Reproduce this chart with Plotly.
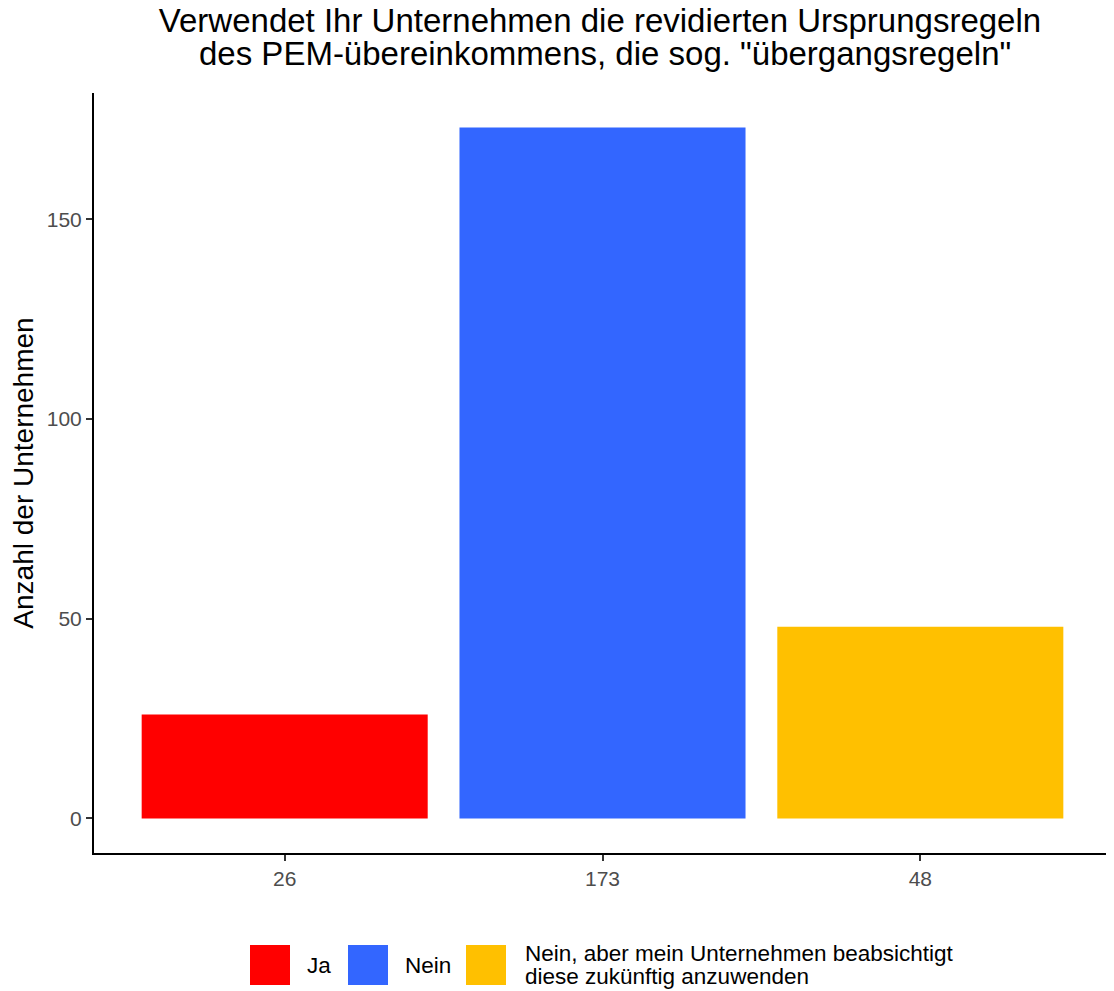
import plotly.graph_objects as go

categories = ["Ja", "Nein", "Nein, aber mein Unternehmen beabsichtigt diese zukünftig anzuwenden"]
counts = [26, 173, 48]
colors = ["#FF0000", "#3366FF", "#FFC000"]
tick_labels = [str(c) for c in counts]
legend_lines = [["Ja"], ["Nein"], ["Nein, aber mein Unternehmen beabsichtigt", "diese zukünftig anzuwenden"]]
title_lines = ["Verwendet Ihr Unternehmen die revidierten Ursprungsregeln",
               "des PEM-übereinkommens, die sog. \"übergangsregeln\""]
y_ticks = [0, 50, 100, 150]

OFF = 8  # page body margin
W, H = 1114 - OFF, 991 - OFF
L, R, T, B = 94 - OFF, 3, 93 - OFF, 138
pw, ph = W - L - R, H - T - B

def px_x(x):
    return (x - OFF - L) / pw

def px_y(y):
    return (H - B - (y - OFF)) / ph

fig = go.Figure()
fig.add_trace(go.Bar(
    x=categories, y=counts, marker=dict(color=colors, line=dict(width=0)),
    width=0.9, showlegend=False, hoverinfo="x+y",
))

font = "Liberation Sans, Arial, sans-serif"
ymax = max(counts)
pad = ymax * 0.05

fig.update_layout(
    width=W, height=H,
    margin=dict(l=L, r=R, t=T, b=B),
    paper_bgcolor="white", plot_bgcolor="white",
    font=dict(family=font, color="black"),
    title=dict(
        text=title_lines[0],
        x=px_x(600), xref="paper", xanchor="center",
        yref="container", y=1 - (20 - OFF) / H, yanchor="middle",
        font=dict(size=33, color="black"),
    ),
    xaxis=dict(
        type="category", range=[-0.6, 2.6],
        tickvals=categories, ticktext=tick_labels,
        showline=True, linecolor="black", linewidth=2,
        ticks="outside", ticklen=6, tickcolor="#333333", tickwidth=2,
        tickfont=dict(size=21, color="#4d4d4d"),
        showgrid=False, zeroline=False, fixedrange=True,
    ),
    yaxis=dict(
        range=[-pad, ymax + pad],
        tickvals=y_ticks,
        showline=True, linecolor="black", linewidth=2,
        ticks="outside", ticklen=6, tickcolor="#333333", tickwidth=2,
        tickfont=dict(size=21, color="#4d4d4d"),
        showgrid=False, zeroline=False,
        title=dict(text="Anzahl der Unternehmen", font=dict(size=28, color="black"), standoff=6),
    ),
)

# second title line
fig.add_annotation(xref="paper", yref="paper", x=px_x(605), y=px_y(53),
                   text=title_lines[1], showarrow=False, xanchor="center", yanchor="middle",
                   font=dict(size=33, color="black"))

# manual legend (ggplot-style, bottom)
key_x = [250, 348, 466]
text_x = [305, 403, 523]
key_top, key_bot = 945, 985
line_gap = 23
for lines, col, kx, tx in zip(legend_lines, colors, key_x, text_x):
    fig.add_shape(type="rect", xref="paper", yref="paper",
                  x0=px_x(kx), x1=px_x(kx + 40), y0=px_y(key_bot), y1=px_y(key_top),
                  fillcolor=col, line=dict(width=0))
    mid = (key_top + key_bot) / 2
    n = len(lines)
    for i, ln in enumerate(lines):
        yc = mid + (i - (n - 1) / 2) * line_gap
        fig.add_annotation(xref="paper", yref="paper", x=px_x(tx), y=px_y(yc),
                           text=ln, showarrow=False, xanchor="left", yanchor="middle",
                           align="left", font=dict(size=22.5, color="black"))

fig.write_html("out.html")
